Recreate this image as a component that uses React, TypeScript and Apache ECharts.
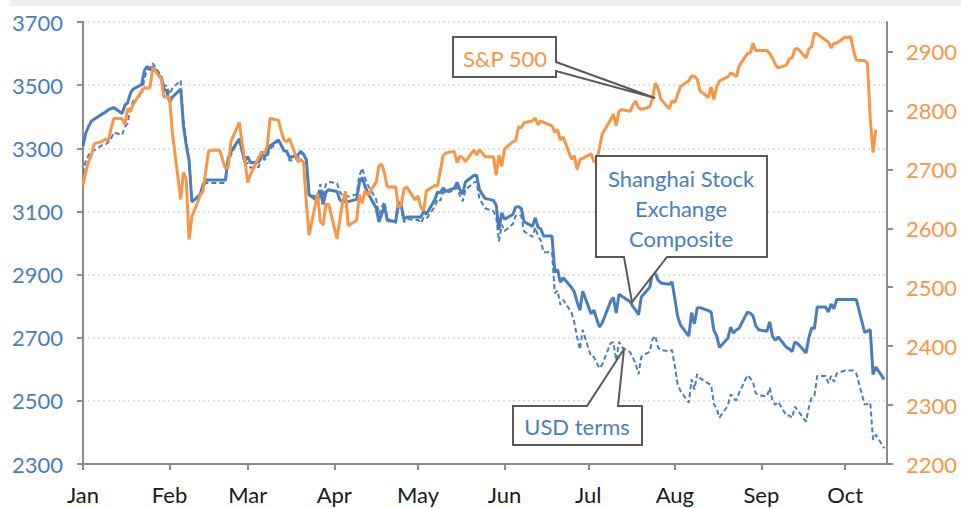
import React, { useEffect, useRef } from 'react';
import * as echarts from 'echarts';

// ---------- data ----------
const monthLabels = ['Jan', 'Feb', 'Mar', 'Apr', 'May', 'Jun', 'Jul', 'Aug', 'Sep', 'Oct'];
const monthStartDays = [0, 31, 59, 90, 120, 151, 181, 212, 243, 273];
const leftTicks = [2300, 2500, 2700, 2900, 3100, 3300, 3500, 3700];
const rightTicks = [2200, 2300, 2400, 2500, 2600, 2700, 2800, 2900];

// one value per weekday, 2018-01-01 .. 2018-10-15 (holidays carry the previous close)
const sse = [
  // Jan
  3307.2, 3348.3, 3369.1, 3385.7, 3391.8, 3409.5, 3413.9, 3421.8, 3425.3, 3428.9, 3410.5, 3436.6, 3444.7, 3474.8, 3487.9, 3501.4, 3546.5, 3559.5, 3548.3, 3558.1, 3523.0, 3488.0, 3480.8,
  // Feb
  3447.0, 3462.1, 3487.5, 3370.7, 3309.3, 3262.1, 3129.9, 3154.1, 3185.0, 3199.2, 3199.2, 3199.2, 3199.2, 3199.2, 3199.2, 3268.6, 3289.0, 3329.6, 3292.1, 3259.4,
  // Mar
  3273.8, 3254.5, 3256.9, 3289.6, 3271.7, 3288.4, 3307.2, 3326.7, 3310.2, 3291.4, 3291.1, 3269.9, 3279.3, 3290.6, 3281.0, 3263.5, 3152.8, 3133.7, 3166.7, 3122.3, 3160.5, 3168.9,
  // Apr
  3163.2, 3136.6, 3131.1, 3131.1, 3131.1, 3138.3, 3190.3, 3208.1, 3180.2, 3159.1, 3110.7, 3066.8, 3091.4, 3117.4, 3071.5, 3068.0, 3128.9, 3118.0, 3075.0, 3082.2, 3082.2,
  // May
  3082.2, 3081.2, 3100.9, 3091.0, 3136.6, 3161.5, 3159.2, 3174.4, 3163.3, 3174.0, 3192.1, 3169.6, 3154.3, 3193.3, 3213.8, 3214.4, 3169.0, 3154.7, 3141.3, 3135.1, 3120.5, 3041.0, 3095.5,
  // Jun
  3075.1, 3091.2, 3114.2, 3115.2, 3109.5, 3067.2, 3052.8, 3079.8, 3049.8, 3044.2, 3021.9, 3021.9, 2907.8, 2915.7, 2875.8, 2889.8, 2859.3, 2844.5, 2813.2, 2786.9, 2847.4,
  // Jul
  2775.6, 2786.9, 2759.1, 2733.9, 2747.2, 2815.1, 2827.6, 2777.8, 2837.7, 2831.2, 2814.0, 2798.1, 2787.3, 2772.6, 2829.3, 2859.5, 2905.6, 2903.7, 2882.2, 2873.6, 2869.1, 2876.4,
  // Aug
  2824.5, 2768.0, 2740.4, 2705.2, 2779.4, 2744.1, 2794.4, 2795.3, 2785.9, 2781.0, 2723.3, 2705.2, 2669.0, 2698.5, 2733.8, 2714.6, 2724.6, 2729.4, 2780.9, 2778.0, 2769.3, 2737.7, 2725.3,
  // Sep
  2720.7, 2750.6, 2704.3, 2691.6, 2702.3, 2669.5, 2664.8, 2656.1, 2686.6, 2681.6, 2651.8, 2700.0, 2730.9, 2729.2, 2797.5, 2797.5, 2781.1, 2806.8, 2791.8, 2821.4,
  // Oct
  2821.4, 2821.4, 2821.4, 2821.4, 2821.4, 2716.5, 2721.0, 2725.8, 2583.5, 2606.9, 2568.1,
];

const sseUsd = [
  // Jan
  3221, 3261, 3278, 3291, 3293, 3311, 3311, 3319, 3329, 3350, 3342, 3368, 3379, 3430, 3450, 3470, 3522, 3549, 3555, 3569, 3530, 3498, 3498,
  // Feb
  3471, 3490, 3515, 3388, 3323, 3262, 3130, 3151, 3179, 3190, 3190, 3190, 3190, 3190, 3190, 3256, 3279, 3330, 3286, 3246,
  // Mar
  3254, 3238, 3241, 3276, 3262, 3275, 3297, 3323, 3310, 3295, 3288, 3260, 3269, 3284, 3281, 3270, 3153, 3146, 3186, 3147, 3186, 3194,
  // Apr
  3189, 3162, 3150, 3150, 3147, 3154, 3213, 3237, 3206, 3184, 3139, 3091, 3113, 3130, 3078, 3062, 3116, 3106, 3066, 3076, 3073,
  // May
  3073, 3063, 3079, 3076, 3115, 3139, 3134, 3162, 3157, 3168, 3176, 3151, 3132, 3168, 3191, 3195, 3140, 3126, 3110, 3101, 3083, 3005, 3058,
  // Jun
  3038, 3060, 3086, 3090, 3085, 3037, 3019, 3049, 3022, 3008, 2971, 2971, 2841, 2849, 2804, 2820, 2779, 2748, 2701, 2662, 2725,
  // Jul
  2640, 2639, 2621, 2603, 2615, 2683, 2686, 2628, 2687, 2670, 2654, 2636, 2617, 2584, 2640, 2656, 2696, 2706, 2669, 2661, 2657, 2661,
  // Aug
  2610, 2552, 2532, 2494, 2568, 2536, 2585, 2572, 2555, 2550, 2489, 2475, 2447, 2485, 2521, 2508, 2501, 2525, 2581, 2572, 2559, 2524, 2518,
  // Sep
  2514, 2542, 2499, 2487, 2497, 2453, 2454, 2446, 2482, 2470, 2434, 2479, 2510, 2516, 2579, 2579, 2556, 2579, 2560, 2587,
  // Oct
  2596, 2596, 2596, 2596, 2587, 2488, 2490, 2494, 2377, 2393, 2350,
];

const spx: (number | null)[] = [
  // Jan
  2673.6, 2695.8, 2713.1, 2724.0, 2743.2, 2747.7, 2751.3, 2748.2, 2767.6, 2786.2, 2786.2, 2776.4, 2802.6, 2798.0, 2810.3, 2833.0, 2839.1, 2837.5, 2839.3, 2872.9, 2853.5, 2822.4, 2823.8,
  // Feb
  2822.0, 2762.1, 2648.9, 2695.1, 2681.7, 2581.0, 2619.6, 2656.0, 2662.9, 2698.6, 2731.2, 2732.2, 2732.2, 2716.3, 2701.3, 2704.0, 2747.3, 2779.6, 2744.3, 2713.8,
  // Mar
  2677.7, 2691.3, 2720.9, 2728.1, 2726.8, 2739.0, 2786.6, 2783.0, 2765.3, 2749.5, 2747.3, 2752.0, 2712.9, 2716.9, 2711.9, 2643.7, 2588.3, 2658.6, 2612.6, 2605.0, 2640.9, 2640.9,
  // Apr
  2581.9, 2614.5, 2644.7, 2662.8, 2604.5, 2613.2, 2656.9, 2642.2, 2664.0, 2656.3, 2677.8, 2706.4, 2708.6, 2693.1, 2670.1, 2670.3, 2634.6, 2639.4, 2666.9, 2669.9, 2648.1,
  // May
  2654.8, 2635.7, 2629.7, 2663.4, 2672.6, 2671.9, 2697.8, 2723.1, 2727.7, 2730.1, 2711.5, 2722.5, 2720.1, 2713.0, 2733.0, 2724.4, 2733.3, 2727.8, 2721.3, 2721.3, 2689.9, 2724.0, 2705.3,
  // Jun
  2734.6, 2746.9, 2748.8, 2772.4, 2770.4, 2779.0, 2782.0, 2786.9, 2775.6, 2782.5, 2779.7, 2773.9, 2762.6, 2767.3, 2749.8, 2754.9, 2717.1, 2723.1, 2699.6, 2716.3, 2718.4,
  // Jul
  2726.7, 2713.2, 2713.2, 2736.6, 2759.8, 2784.2, 2793.8, 2774.0, 2798.3, 2801.3, 2798.4, 2809.6, 2815.6, 2804.5, 2801.8, 2806.0, 2820.4, 2846.1, 2837.4, 2818.8, 2802.6, 2816.3,
  // Aug
  2813.4, 2827.2, 2840.4, 2850.4, 2858.5, 2857.7, 2853.6, 2833.3, 2821.9, 2840.0, 2818.4, 2840.7, 2850.1, 2857.1, 2863.0, 2861.8, 2857.0, 2874.7, 2896.7, 2897.5, 2914.0, 2901.1, 2901.5,
  // Sep
  2901.5, 2896.7, 2888.6, 2878.1, 2871.7, 2877.1, 2887.9, 2888.9, 2904.2, 2905.0, 2888.8, 2904.3, 2908.0, 2930.8, 2929.7, 2919.4, 2915.6, 2906.0, 2914.0, 2914.0,
  // Oct
  2924.6, 2923.4, 2925.5, 2901.6, 2885.6, 2884.4, 2880.3, 2785.7, 2728.4, 2767.1, null,
];

// ---------- helpers ----------
function weekdayOffsets(start: string, count: number): number[] {
  const t0 = Date.parse(start + 'T00:00:00Z');
  const out: number[] = [];
  for (let d = 0; out.length < count; d++) {
    const wd = new Date(t0 + d * 86400000).getUTCDay();
    if (wd !== 0 && wd !== 6) out.push(d);
  }
  return out;
}

const days = weekdayOffsets('2018-01-01', sse.length);
const pairs = (vals: (number | null)[]) => vals.map((v, i) => [days[i], v]);

const FONT = 'Lato, "Liberation Sans", Arial, sans-serif';
const BLUE = '#4a7ebb';
const ORANGE = '#f79646';
const AXIS = '#8c8c8c';
const BORDER = '#595959';
const plain = (v: number) => String(v);

export default function App() {
  const ref = useRef<HTMLDivElement>(null);

  useEffect(() => {
    if (!ref.current) return;
    const chart = echarts.init(ref.current, undefined, { renderer: 'svg' });

    const option: any = {
      animation: false,
      backgroundColor: '#ffffff',
      grid: { left: 83, right: 74, top: 22, bottom: 44, containLabel: false },
      xAxis: {
        type: 'value',
        min: 0,
        max: 288,
        axisLine: { show: true, onZero: false, lineStyle: { color: AXIS, width: 2 } },
        axisTick: {
          show: true,
          length: 6,
          customValues: monthStartDays,
          lineStyle: { color: AXIS, width: 2 },
        },
        axisLabel: {
          customValues: monthStartDays,
          formatter: (v: number) => monthLabels[monthStartDays.indexOf(v)] ?? '',
          margin: 19,
          fontSize: 22,
          fontFamily: FONT,
          color: '#1a1a1a',
        },
        splitLine: { show: false },
      },
      yAxis: [
        {
          type: 'value',
          position: 'left',
          min: 2300,
          max: 3700,
          axisLine: { show: true, lineStyle: { color: AXIS, width: 2 } },
          axisTick: { show: true, length: 6, customValues: leftTicks, lineStyle: { color: AXIS, width: 2 } },
          axisLabel: {
            customValues: leftTicks,
            formatter: plain,
            margin: 20,
            fontSize: 22,
            fontFamily: FONT,
            color: BLUE,
          },
          splitLine: { show: true, lineStyle: { color: '#d9d9d9', width: 1.5, type: [2, 3] } },
        },
        {
          type: 'value',
          position: 'right',
          min: 2200,
          max: 2950,
          axisLine: { show: true, lineStyle: { color: AXIS, width: 2 } },
          axisTick: { show: true, length: 6, customValues: rightTicks, lineStyle: { color: AXIS, width: 2 } },
          axisLabel: {
            customValues: rightTicks,
            formatter: plain,
            margin: 19,
            fontSize: 22,
            fontFamily: FONT,
            color: ORANGE,
          },
          splitLine: { show: false },
        },
      ],
      series: [
        {
          name: 'USD terms',
          type: 'line',
          yAxisIndex: 0,
          data: pairs(sseUsd),
          showSymbol: false,
          symbol: 'none',
          lineStyle: { color: BLUE, width: 2, type: [5, 3] },
          z: 2,
        },
        {
          name: 'Shanghai Stock Exchange Composite',
          type: 'line',
          yAxisIndex: 0,
          data: pairs(sse),
          showSymbol: false,
          symbol: 'none',
          lineStyle: { color: BLUE, width: 3 },
          z: 3,
        },
        {
          name: 'S&P 500',
          type: 'line',
          yAxisIndex: 1,
          data: pairs(spx),
          showSymbol: false,
          symbol: 'none',
          connectNulls: false,
          lineStyle: { color: ORANGE, width: 3 },
          z: 4,
        },
      ],
      graphic: [
        { type: 'rect', z: 1, shape: { x: 10, y: 0, width: 951, height: 6 }, style: { fill: '#f0f0f0' } },
        // S&P 500 callout
        {
          type: 'polygon',
          z: 100,
          shape: { points: [[453, 37], [556, 37], [556, 62], [655, 98], [556, 71], [556, 77], [453, 77]] },
          style: { fill: '#ffffff', stroke: BORDER, lineWidth: 2 },
        },
        {
          type: 'text',
          z: 101,
          x: 505,
          y: 58,
          style: { text: 'S&P 500', fontSize: 22, fontFamily: FONT, fill: ORANGE, align: 'center', verticalAlign: 'middle' },
        },
        // Shanghai callout
        {
          type: 'polygon',
          z: 100,
          shape: { points: [[596, 156], [767, 156], [767, 257], [667, 257], [632, 302], [624, 257], [596, 257]] },
          style: { fill: '#ffffff', stroke: BORDER, lineWidth: 2 },
        },
        {
          type: 'text',
          z: 101,
          x: 681,
          y: 178,
          style: { text: 'Shanghai Stock', fontSize: 22, fontFamily: FONT, fill: BLUE, align: 'center', verticalAlign: 'middle' },
        },
        {
          type: 'text',
          z: 101,
          x: 681,
          y: 208,
          style: { text: 'Exchange', fontSize: 22, fontFamily: FONT, fill: BLUE, align: 'center', verticalAlign: 'middle' },
        },
        {
          type: 'text',
          z: 101,
          x: 681,
          y: 238,
          style: { text: 'Composite', fontSize: 22, fontFamily: FONT, fill: BLUE, align: 'center', verticalAlign: 'middle' },
        },
        // USD terms callout
        {
          type: 'polygon',
          z: 100,
          shape: { points: [[513, 406], [587, 406], [624, 349], [618, 406], [642, 406], [642, 445], [513, 445]] },
          style: { fill: '#ffffff', stroke: BORDER, lineWidth: 2 },
        },
        {
          type: 'text',
          z: 101,
          x: 577,
          y: 426,
          style: { text: 'USD terms', fontSize: 22, fontFamily: FONT, fill: BLUE, align: 'center', verticalAlign: 'middle' },
        },
      ],
    };

    chart.setOption(option);
    return () => chart.dispose();
  }, []);

  return (
    <div
      ref={ref}
      style={{ position: 'fixed', left: 0, top: 0, width: 961, height: 508, background: '#fff' }}
    />
  );
}
